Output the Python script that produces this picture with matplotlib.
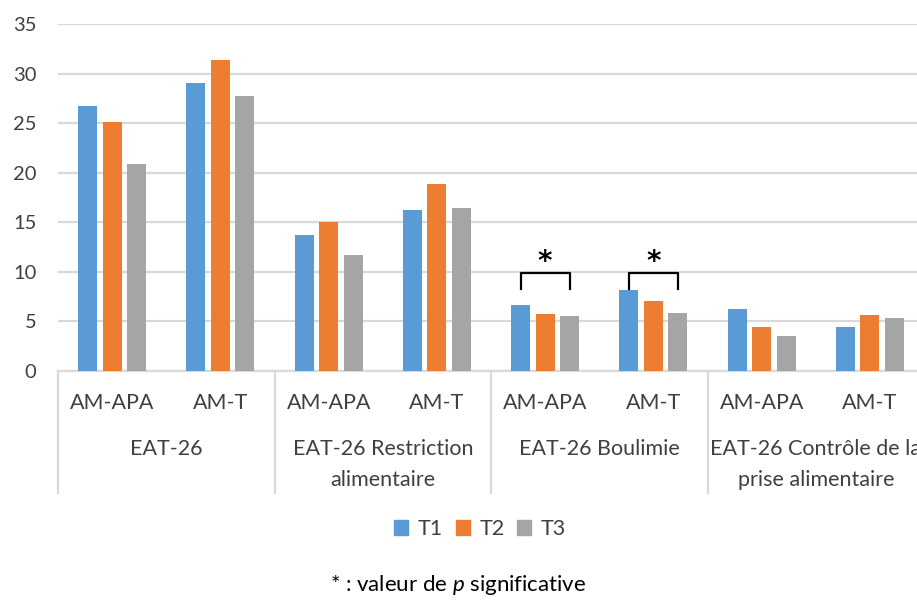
"""
EAT-26 scores (T1, T2, T3) for AM-APA and AM-T groups, with significance brackets.
"""

import matplotlib.pyplot as plt
from matplotlib.patches import Patch

# %% Data
GROUPS = [
    "EAT-26",
    "EAT-26 Restriction\nalimentaire",
    "EAT-26 Boulimie",
    "EAT-26 Contrôle de la\nprise alimentaire",
]
SUBGROUPS = ["AM-APA", "AM-T"]
SERIES = ["T1", "T2", "T3"]

t1 = [26.7, 29.0, 13.75, 16.2, 6.65, 8.2, 6.25, 4.45]
t2 = [25.1, 31.4, 15.05, 18.9, 5.75, 7.05, 4.45, 5.6]
t3 = [20.9, 27.7, 11.7, 16.45, 5.5, 5.9, 3.55, 5.35]

# indices of significant categories (p < .05)
SIGNIF = [4, 5]

YTICKS = [0, 5, 10, 15, 20, 25, 30, 35]
FOOTNOTE = r"* : valeur de $\mathit{p}$ significative"

# %% Style
plt.rcParams["font.family"] = ["Lato", "DejaVu Sans"]
plt.rcParams["mathtext.fontset"] = "custom"
plt.rcParams["mathtext.it"] = "Lato:italic"
plt.rcParams["mathtext.rm"] = "Lato"

COLORS = {"T1": "#5B9BD5", "T2": "#ED7D31", "T3": "#A5A5A5"}
GRID_C = "#D9D9D9"
TEXT_C = "#404040"
FS = 15.5
FS_TICK = 14.5
BAR_W = 0.176
BAR_STEP = 0.227

# %% Figure
fig = plt.figure(figsize=(9.17, 6.02), dpi=100)
ax = fig.add_axes([58 / 917, 1 - 371 / 602, (924 - 58) / 917, (371 - 24) / 602])

n_cat = len(t1)
values = {"T1": t1, "T2": t2, "T3": t3}
centers = [i + 0.5 for i in range(n_cat)]

for j, s in enumerate(SERIES):
    xs = [c + (j - 1) * BAR_STEP for c in centers]
    ax.bar(xs, values[s], width=BAR_W, color=COLORS[s], zorder=3)

ax.set_xlim(0, n_cat)
ax.set_ylim(0, 35)
ax.set_yticks(YTICKS)
ax.yaxis.grid(True, color=GRID_C, lw=1.6, zorder=0)
ax.set_axisbelow(True)
for sp in ["top", "right", "left"]:
    ax.spines[sp].set_visible(False)
ax.spines["bottom"].set_color(GRID_C)
ax.spines["bottom"].set_linewidth(1.6)
ax.tick_params(axis="y", length=0, pad=15.5, labelsize=FS_TICK, labelcolor=TEXT_C)
ax.tick_params(axis="x", length=0, labelbottom=False)

# Multi-level category axis
trans = ax.get_xaxis_transform()
ax_h = 371 - 24
for g in range(len(GROUPS) + 1):
    ax.plot([2 * g, 2 * g], [0, -(493 - 371) / ax_h], color=GRID_C, lw=1.6,
            transform=trans, clip_on=False)
for i, c in enumerate(centers):
    ax.text(c, -(403 - 371) / ax_h, SUBGROUPS[i % 2], ha="center", va="center",
            fontsize=FS, color=TEXT_C, transform=trans)
# the last group label is cut by the right edge, as in the original
for g, name in enumerate(GROUPS):
    ax.text(2 * g + 1, -(439 - 371) / ax_h, name, ha="center", va="top",
            fontsize=FS, color=TEXT_C, transform=trans, linespacing=1.7)

# Significance brackets
for k in SIGNIF:
    x0 = centers[k] - BAR_STEP
    x1 = centers[k] + BAR_STEP
    ax.plot([x0, x0, x1, x1], [8.3, 9.9, 9.9, 8.3], color="black", lw=1.6,
            zorder=4)
    ax.text(centers[k], 11.0, "*", ha="center", va="center", fontsize=20,
            fontweight="bold", color="black", family="DejaVu Sans")

# Legend
handles = [Patch(color=COLORS[s], label=s) for s in SERIES]
fig.legend(handles=handles, loc="center", bbox_to_anchor=(480 / 917, 1 - 529 / 602),
           ncol=3, frameon=False, fontsize=FS, handlelength=0.65,
           handleheight=0.65, handletextpad=0.45, columnspacing=0.6,
           labelcolor=TEXT_C)

fig.text(0.5, 1 - 585 / 602, FOOTNOTE, ha="center", va="center",
         fontsize=16, color="black")

fig.savefig("out.png", dpi=100)
